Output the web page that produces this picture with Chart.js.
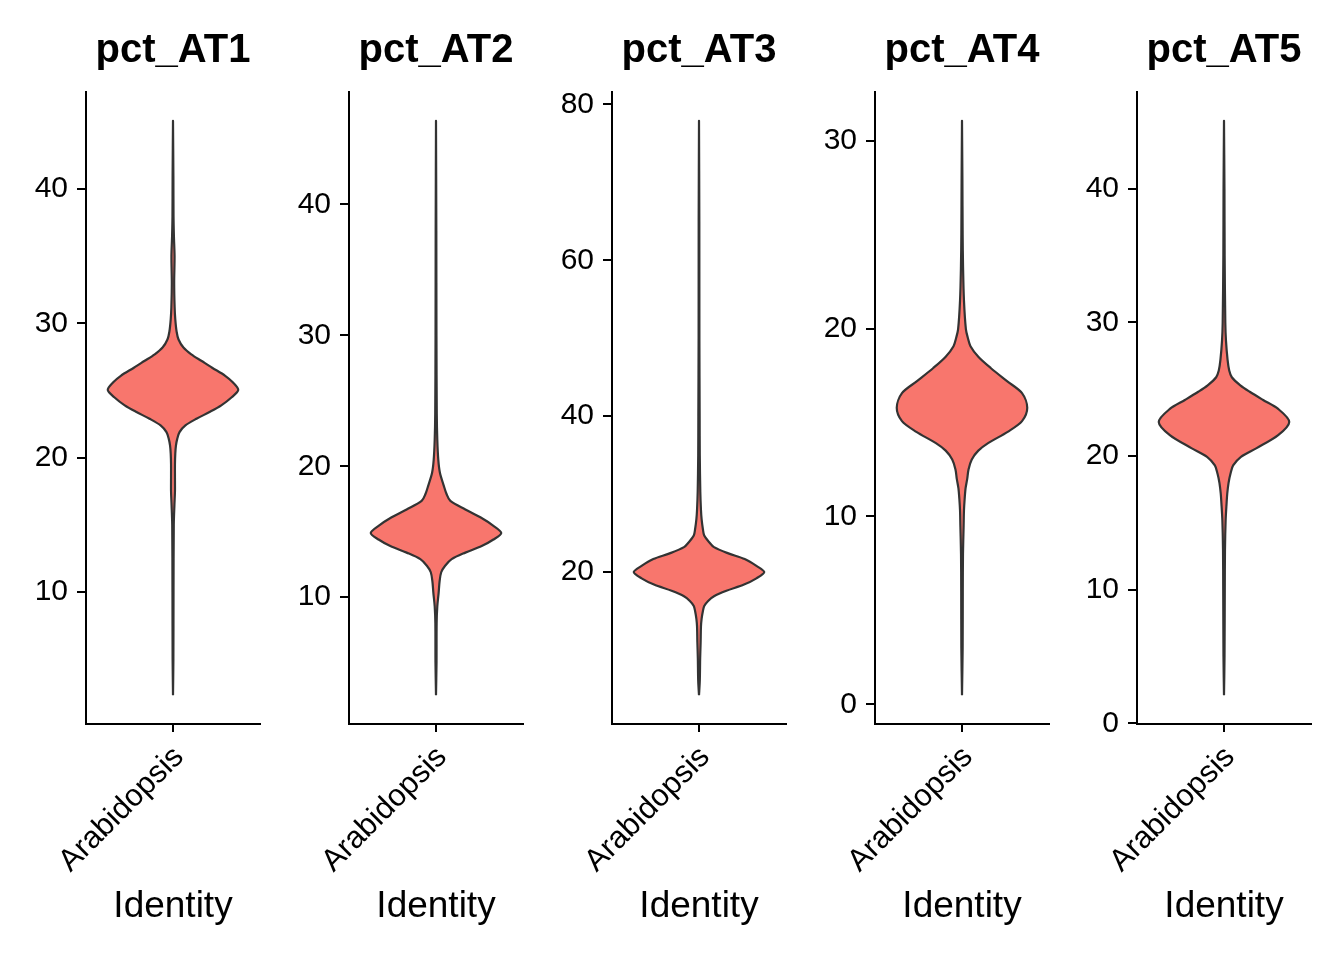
<!DOCTYPE html>
<html><head><meta charset="utf-8">
<script src="https://cdn.jsdelivr.net/npm/chart.js@4.4.1/dist/chart.umd.min.js"></script>
<style>
html,body{margin:0;padding:0;background:#fff;width:1344px;height:960px;overflow:hidden;}
#wrap{position:relative;width:1344px;height:960px;background:#fff;}
canvas{position:absolute;top:0;}
</style></head><body><div id="wrap"></div>
<script>
// ---- data ----
const panelTitles = ['pct_AT1', 'pct_AT2', 'pct_AT3', 'pct_AT4', 'pct_AT5'];
const category = 'Arabidopsis';
const xAxisTitle = 'Identity';

// violin profiles: value -> relative half width (1 = widest)
const at1Values = [2.3, 5, 10, 15, 16.5, 17.5, 18.5, 19.5, 20.3, 20.9, 21.4, 21.9, 22.4, 22.9, 23.4, 23.9, 24.5, 25.05, 25.6, 26.1, 26.7, 27.2, 27.7, 28.2, 28.8, 29.4, 30.3, 31.2, 33, 35, 36.5, 38, 41, 45.1];
const at1Widths = [0, 0.006, 0.008, 0.012, 0.022, 0.03, 0.03, 0.03, 0.035, 0.045, 0.065, 0.1, 0.19, 0.36, 0.56, 0.74, 0.9, 1.0, 0.92, 0.8, 0.6, 0.44, 0.28, 0.16, 0.085, 0.055, 0.035, 0.025, 0.018, 0.024, 0.014, 0.008, 0.006, 0];

const at2Values = [2.5, 5, 8, 9.3, 10.3, 11.2, 11.9, 12.4, 12.9, 13.4, 13.9, 14.4, 14.9, 15.45, 16.1, 16.7, 17.35, 17.9, 18.5, 19.5, 20.5, 22, 24, 30, 38, 46.4];
const at2Widths = [0, 0.008, 0.01, 0.02, 0.04, 0.055, 0.08, 0.14, 0.24, 0.45, 0.7, 0.88, 1.0, 0.88, 0.68, 0.45, 0.22, 0.16, 0.12, 0.06, 0.035, 0.02, 0.012, 0.007, 0.005, 0];

const at3Values = [4.2, 6, 9, 11, 13, 14, 15, 15.65, 16.3, 16.9, 17.6, 18.4, 19.2, 20, 20.8, 21.67, 22.4, 23.2, 23.8, 24.7, 25.5, 26.8, 28, 30.3, 35, 40, 50, 65, 77.9];
const at3Widths = [0, 0.012, 0.018, 0.025, 0.03, 0.04, 0.06, 0.08, 0.14, 0.23, 0.42, 0.69, 0.88, 1.0, 0.88, 0.7, 0.45, 0.23, 0.16, 0.08, 0.06, 0.04, 0.03, 0.02, 0.012, 0.01, 0.006, 0.005, 0];

const at4Values = [0.48, 3, 6, 8, 9.5, 10.3, 10.9, 11.5, 12, 12.5, 13.03, 13.5, 13.9, 14.5, 15.07, 15.78, 16.56, 17.2, 17.9, 18.5, 19.06, 19.5, 19.95, 21.5, 23.3, 25, 28, 31.06];
const at4Widths = [0, 0.01, 0.012, 0.015, 0.025, 0.03, 0.04, 0.055, 0.08, 0.1, 0.15, 0.25, 0.4, 0.7, 0.92, 1.0, 0.92, 0.69, 0.44, 0.25, 0.13, 0.09, 0.06, 0.03, 0.016, 0.01, 0.006, 0];

const at5Values = [2.1, 5, 10, 13, 15.2, 16.5, 17.2, 18, 18.7, 19.3, 19.95, 20.6, 21.57, 22.56, 23.53, 24.2, 24.8, 25.3, 25.9, 26.4, 27.2, 28.66, 30, 35, 40, 45.1];
const at5Widths = [0, 0.008, 0.012, 0.015, 0.025, 0.04, 0.05, 0.07, 0.1, 0.14, 0.26, 0.5, 0.83, 1.0, 0.83, 0.6, 0.4, 0.25, 0.12, 0.08, 0.055, 0.03, 0.02, 0.01, 0.007, 0];

const at1Ticks = [10, 20, 30, 40];
const at2Ticks = [10, 20, 30, 40];
const at3Ticks = [20, 40, 60, 80];
const at4Ticks = [0, 10, 20, 30];
const at5Ticks = [0, 10, 20, 30, 40];

// ---- layout / style ----
const FONT = "'Liberation Sans', Arial, Helvetica, sans-serif";
const canvasLefts = [0, 263, 526, 789, 1051];
const CW = 263, CH = 960;
const Y_AXIS_W = 86, TOP_H = 92, BOTTOM_H = 236, RIGHT_PAD = 3;
const VIOLIN_HALF = 0.45;
const FILL = '#F8766D', OUTLINE = '#333333';

const panels = [
  {title: panelTitles[0], values: at1Values, widths: at1Widths, ticks: at1Ticks},
  {title: panelTitles[1], values: at2Values, widths: at2Widths, ticks: at2Ticks},
  {title: panelTitles[2], values: at3Values, widths: at3Widths, ticks: at3Ticks},
  {title: panelTitles[3], values: at4Values, widths: at4Widths, ticks: at4Ticks},
  {title: panelTitles[4], values: at5Values, widths: at5Widths, ticks: at5Ticks},
];

const wrap = document.getElementById('wrap');
panels.forEach((p, idx) => {
  const cv = document.createElement('canvas');
  cv.width = CW; cv.height = CH;
  cv.style.left = canvasLefts[idx] + 'px';
  cv.style.width = CW + 'px'; cv.style.height = CH + 'px';
  wrap.appendChild(cv);

  const lo = Math.min(...p.values), hi = Math.max(...p.values);
  const pad = (hi - lo) * 0.05;
  const right = p.values.map((v, i) => ({x: 1 + VIOLIN_HALF * p.widths[i], y: v}));
  const left = p.values.map((v, i) => ({x: 1 - VIOLIN_HALF * p.widths[i], y: v})).reverse();
  const pts = right.concat(left);

  new Chart(cv, {
    type: 'scatter',
    data: {datasets: [{
      data: pts, showLine: true, fill: 'shape',
      backgroundColor: FILL, borderColor: OUTLINE, borderWidth: 2.2,
      pointRadius: 0, pointHoverRadius: 0, tension: 0.3, borderJoinStyle: 'round'
    }]},
    options: {
      responsive: false, animation: false, devicePixelRatio: 1,
      events: [],
      layout: {padding: {left: 0, right: RIGHT_PAD, top: 0, bottom: 0}},
      plugins: {legend: {display: false}, tooltip: {enabled: false}, title: {display: false}},
      scales: {
        x: {
          type: 'linear', position: 'bottom', min: 0.4, max: 1.6,
          afterBuildTicks: s => { s.ticks = [{value: 1}]; },
          afterFit: s => { s.height = BOTTOM_H; },
          ticks: {callback: () => category, minRotation: 45, maxRotation: 45, autoSkip: false,
                  padding: 7, labelOffset: 6, color: '#000', font: {family: FONT, size: 31}},
          grid: {display: true, drawOnChartArea: false, drawTicks: true, tickLength: 8, color: '#000', lineWidth: 2},
          border: {display: true, color: '#000', width: 2},
          title: {display: true, text: xAxisTitle, color: '#000', font: {family: FONT, size: 37},
                  padding: {top: 0, bottom: 31}}
        },
        x2: {
          type: 'linear', position: 'top', min: 0.4, max: 1.6,
          afterFit: s => { s.height = TOP_H; },
          ticks: {display: false}, grid: {display: false}, border: {display: false},
          title: {display: true, text: p.title, color: '#000', font: {family: FONT, size: 40, weight: 'bold'},
                  padding: {top: 27, bottom: 0}}
        },
        y: {
          type: 'linear', position: 'left', min: lo - pad, max: hi + pad,
          afterBuildTicks: s => { s.ticks = p.ticks.map(v => ({value: v})); },
          afterFit: s => { s.width = Y_AXIS_W; },
          ticks: {callback: v => String(v), padding: 9, color: '#000', font: {family: FONT, size: 30}},
          grid: {display: true, drawOnChartArea: false, drawTicks: true, tickLength: 9, color: '#000', lineWidth: 2},
          border: {display: true, color: '#000', width: 2}
        }
      }
    }
  });
});
</script>
</body></html>
